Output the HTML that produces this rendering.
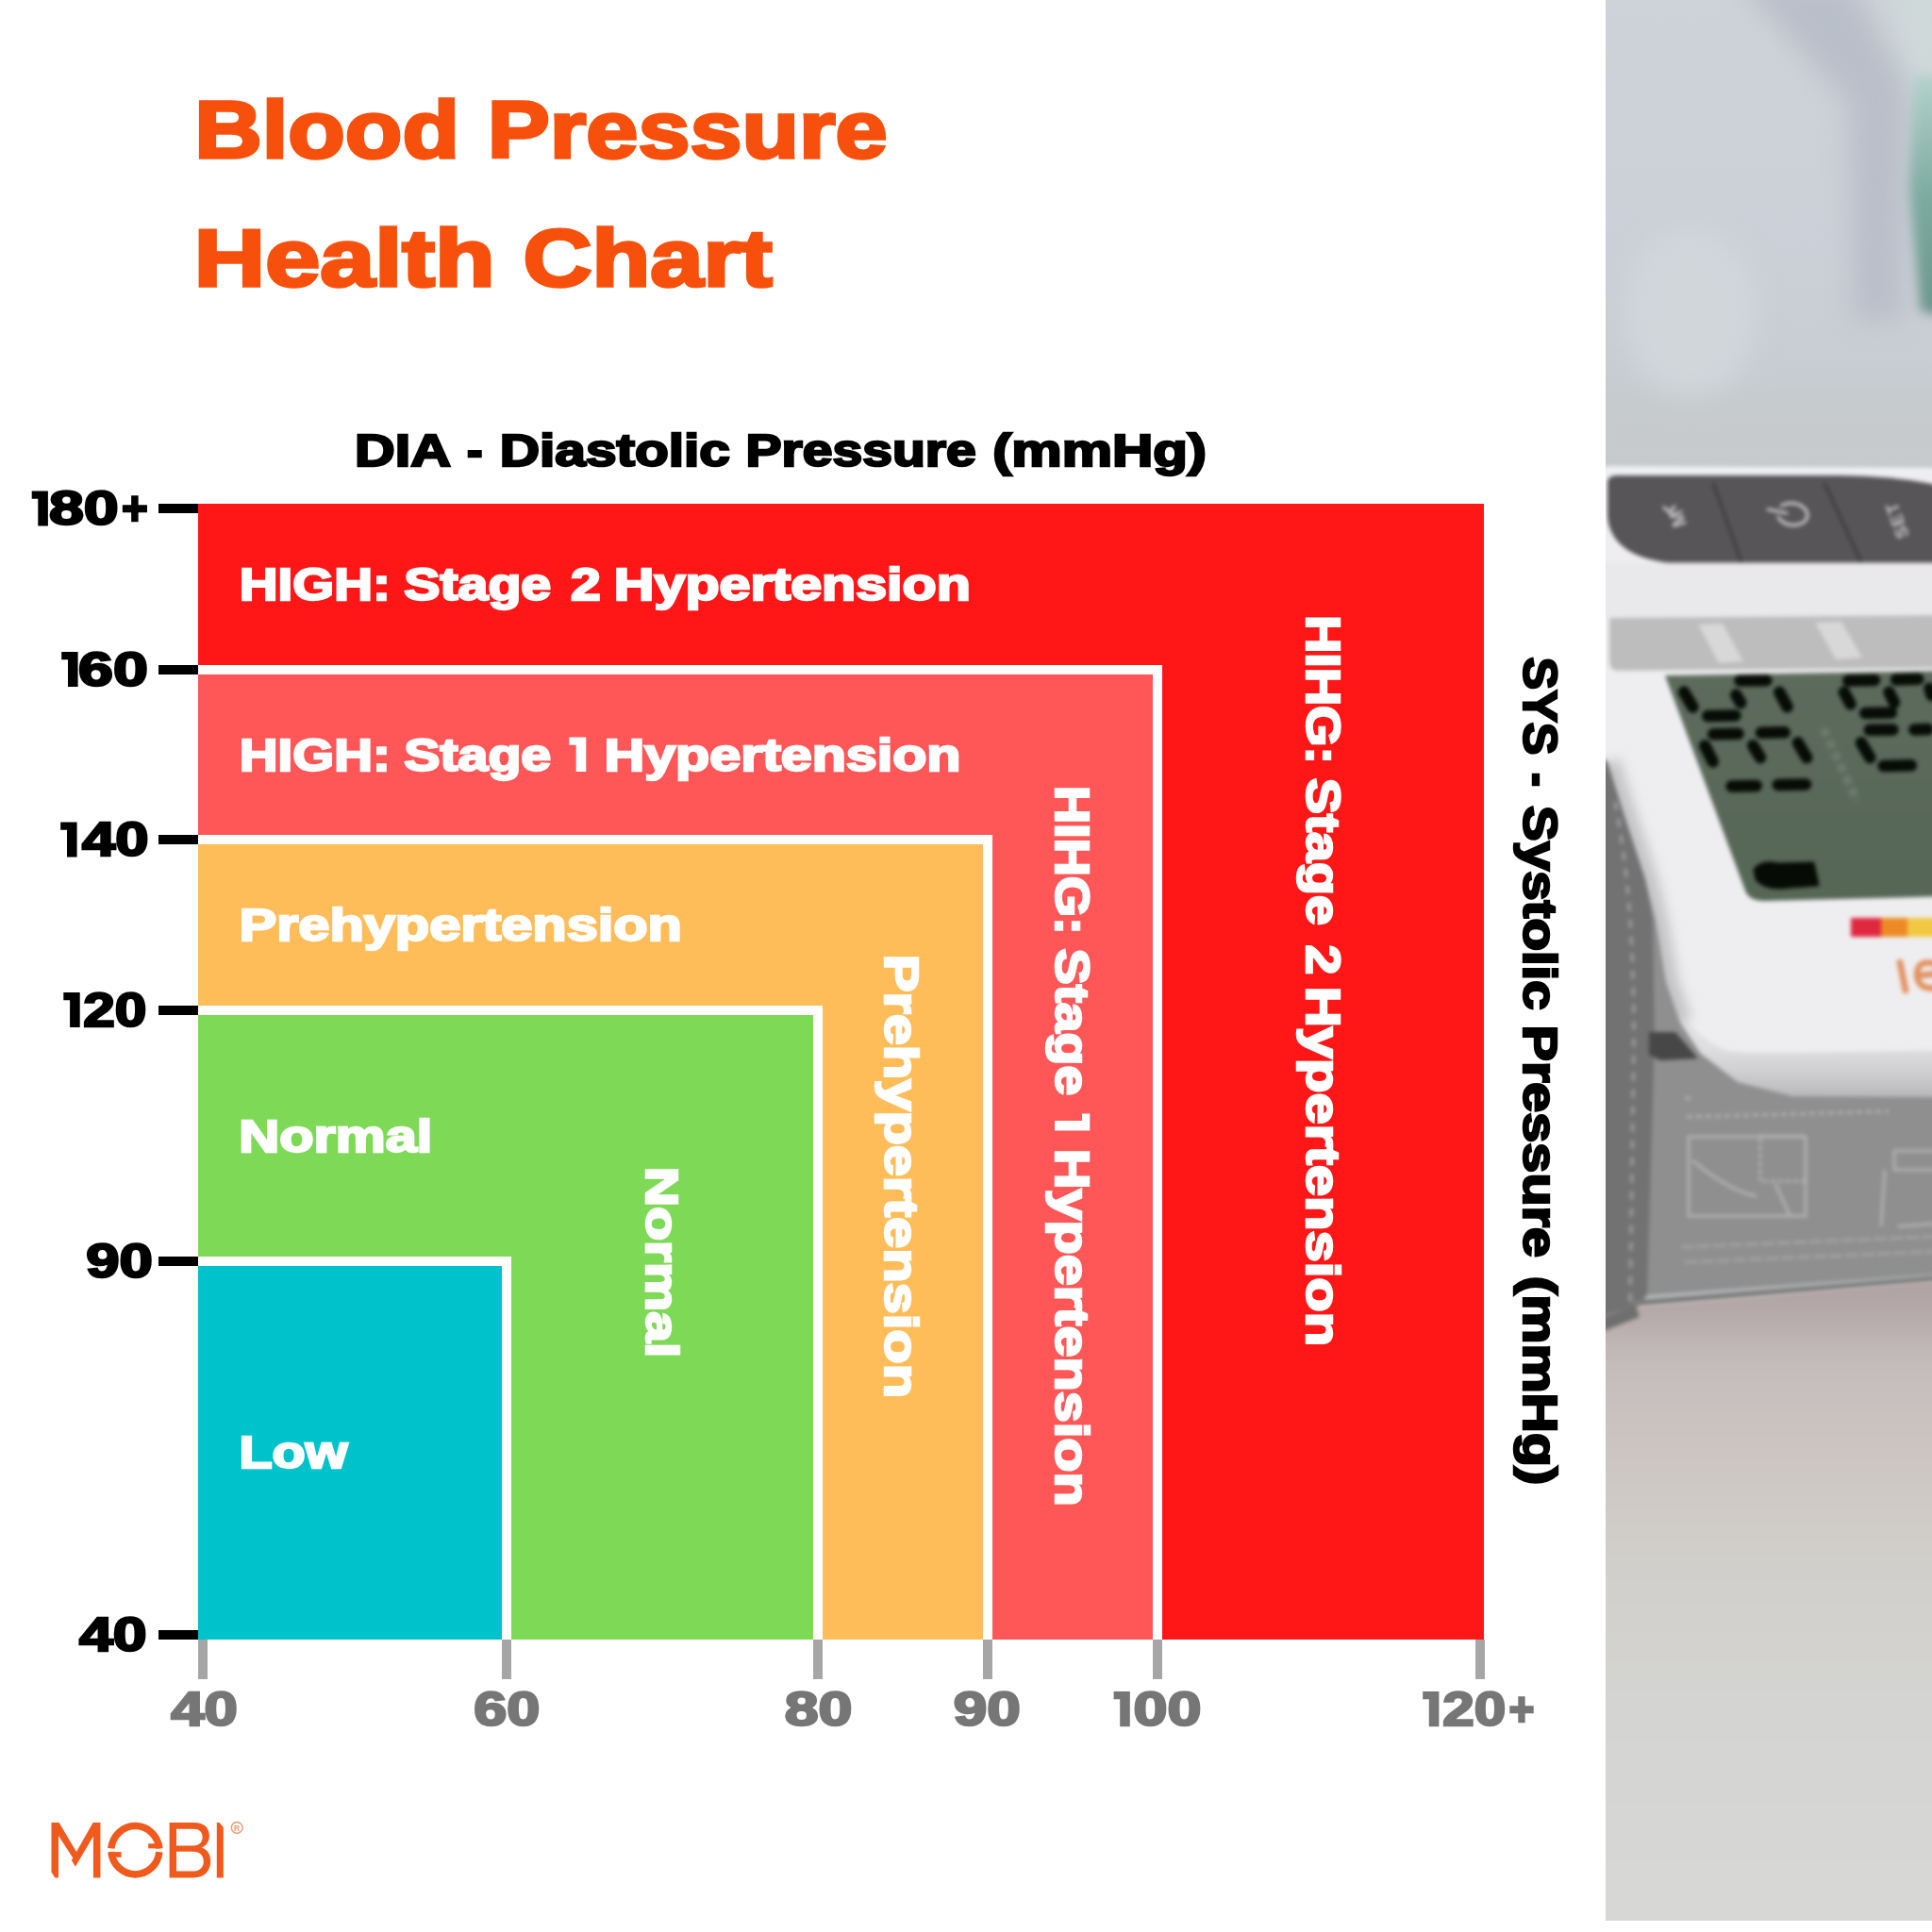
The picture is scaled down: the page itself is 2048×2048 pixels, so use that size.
<!DOCTYPE html>
<html lang="en">
<head>
<meta charset="utf-8">
<title>Blood Pressure Health Chart</title>
<style>
html,body{margin:0;padding:0;background:#fff;}
body{width:2048px;height:2048px;position:relative;overflow:hidden;font-family:"Liberation Sans", sans-serif;}
.chart{position:absolute;left:210px;top:534px;width:1363px;height:1204px;background:#ff1616;}
.zone{position:absolute;left:0;bottom:0;box-sizing:border-box;border-top:10px solid #fff;border-right:10px solid #fff;}
.z1{width:1022px;height:1033.5px;background:#ff5757;}
.z2{width:842px;height:853px;background:#ffbd59;}
.z3{width:662px;height:672.5px;background:#7ed957;}
.z4{width:332px;height:406.5px;background:#00c2cb;}
i.yt{position:absolute;left:167.5px;width:42.5px;height:10px;background:#000;display:block;}
i.xt{position:absolute;top:1738px;width:10px;height:42px;background:#a6a6a6;display:block;}
svg.txt{position:absolute;left:0;top:0;}
svg.txt text{font-family:"Liberation Sans", sans-serif;font-weight:700;stroke-linejoin:miter;stroke-miterlimit:3;}
.photo{position:absolute;left:1702px;top:0;width:346px;height:2036px;overflow:hidden;background:#cfd4d8;}
.photo svg{display:block;}
.logo{position:absolute;left:50px;top:1925px;}
</style>
</head>
<body>
<div class="photo">
<svg width="346" height="2036" viewBox="0 0 346 2036">
  <defs>
    <filter id="b2" color-interpolation-filters="sRGB" x="-20%" y="-20%" width="140%" height="140%"><feGaussianBlur stdDeviation="2"/></filter>
    <filter id="b6" color-interpolation-filters="sRGB" x="-30%" y="-30%" width="160%" height="160%"><feGaussianBlur stdDeviation="6"/></filter>
    <filter id="b14" color-interpolation-filters="sRGB" x="-50%" y="-50%" width="200%" height="200%"><feGaussianBlur stdDeviation="14"/></filter>
    <filter id="b30" color-interpolation-filters="sRGB" x="-50%" y="-50%" width="200%" height="200%"><feGaussianBlur stdDeviation="30"/></filter>
    <linearGradient id="bg" x1="0" y1="0" x2="0" y2="1">
      <stop offset="0" stop-color="#cdd3d9"/><stop offset="0.55" stop-color="#cbd0d8"/><stop offset="1" stop-color="#c6cbce"/>
    </linearGradient>
    <linearGradient id="teal" x1="0" y1="0" x2="0" y2="1">
      <stop offset="0" stop-color="#b4d2cb"/><stop offset="0.5" stop-color="#7daba0"/><stop offset="1" stop-color="#6a968a"/>
    </linearGradient>
    <linearGradient id="table" x1="0" y1="0" x2="0" y2="1">
      <stop offset="0" stop-color="#aea3a2"/><stop offset="0.045" stop-color="#b4a9a8"/><stop offset="0.13" stop-color="#c5bdbc"/><stop offset="0.28" stop-color="#cdc7c4"/><stop offset="0.42" stop-color="#d1cfcb"/><stop offset="0.63" stop-color="#d4d4d2"/><stop offset="1" stop-color="#d8d8d7"/>
    </linearGradient>
    <linearGradient id="rim" gradientUnits="userSpaceOnUse" x1="0" y1="1110" x2="0" y2="1162">
      <stop offset="0" stop-color="#dfdfe1"/><stop offset="0.5" stop-color="#cfcfd1"/><stop offset="1" stop-color="#b9b9bb"/>
    </linearGradient>
    <linearGradient id="lcd" x1="0" y1="0" x2="0" y2="1">
      <stop offset="0" stop-color="#5d6b5c"/><stop offset="1" stop-color="#566756"/>
    </linearGradient>
  </defs>

  <!-- blurred background -->
  <rect x="0" y="0" width="346" height="500" fill="url(#bg)"/>
  <g filter="url(#b14)">
    <path d="M140 -20 L260 -20 L320 90 L315 340 L262 340 L258 110 Z" fill="#b9bfc9"/>
    <path d="M300 -20 L360 -20 L360 100 L322 90 Z" fill="#cfd9d8"/>
    <ellipse cx="90" cy="330" rx="70" ry="90" fill="#d0d6da"/>
    <rect x="-20" y="420" width="400" height="90" fill="#c6cacc"/>
  </g>
  <g filter="url(#b6)">
    <path d="M326 80 L360 80 L360 335 L334 330 L322 200 Z" fill="url(#teal)"/>
  </g>

  <!-- device -->
  <g filter="url(#b2)">
    <!-- white top rim -->
    <path d="M-20 494 L366 496 L366 524 L-20 510 Z" fill="#eef0f2"/>
    <!-- body white -->
    <rect x="-20" y="500" width="400" height="680" fill="#eeeef0"/>
    <!-- dark button panel -->
    <path d="M2 512 Q2 504 12 504 L250 504 Q320 505 366 518 L366 596.5 L66 596.5 Q6 589 2 548 Z" fill="#575557"/>
    <path d="M114 512 L144 596" stroke="#3f3d3f" stroke-width="3" fill="none"/>
    <path d="M232 512 L271 596" stroke="#3f3d3f" stroke-width="3" fill="none"/>
    <!-- button icons -->
    <g fill="#c6c6c8" font-family="Liberation Sans, sans-serif" font-weight="700">
      <text transform="translate(86 556) rotate(-108)" font-size="21">M</text>
      <text transform="translate(322 568) rotate(-110)" font-size="19" letter-spacing="1">SET</text>
    </g>
    <g stroke="#c6c6c8" stroke-width="3.2" fill="none" stroke-linecap="round">
      <path d="M62 538 l6 5 l5 -6"/>
      <ellipse cx="198" cy="545" rx="16" ry="11.5" transform="rotate(8 198 545)"/>
      <path d="M178 541 L188 543" stroke="#575557" stroke-width="10" stroke-linecap="butt"/>
      <path d="M172 540 L192 544"/>
    </g>
    <!-- light band -->
    <rect x="-20" y="597" width="400" height="58" fill="#e9e8eb"/>
    <!-- grey band -->
    <path d="M4 655 L366 652 L366 708 L12 711 Q4 711 4 700 Z" fill="#bebdbe"/>
    <g fill="#d9d8d9">
      <path d="M98 662 l26 -1 l22 40 l-26 2 z"/>
      <path d="M222 660 l28 -1 l22 38 l-28 2 z"/>
    </g>
  </g>

  <!-- LCD -->
  <g filter="url(#b2)">
    <path d="M63 716 L366 711 L366 950 L168 955 Q152 955 148 944 Z" fill="url(#lcd)"/>
    <path d="M230.9 772.1 L266.7 849.6" stroke="#7a877b" stroke-width="9" stroke-dasharray="9 5" fill="none" opacity="0.55"/>
    <path d="M83.1 733.6 L92.5 749.5 M142.5 721.6 L170.3 721.2 M138.3 736.6 L143.2 745.0 M184.3 733.7 L192.6 749.3 M108.2 758.9 L137.5 758.5 M257.3 721.6 L285.1 720.9 M308.0 720.4 L331.3 719.8 M252.9 733.7 L259.6 746.4 M300.5 733.8 L306.0 744.8 M275.2 755.9 L302.9 755.5 M343.5 729.7 L345.7 737.0 M114.2 778.3 L140.5 777.8 M164.9 776.8 L189.7 776.3 M105.2 790.4 L113.7 807.4 M156.2 790.2 L164.0 803.1 M203.9 787.3 L213.2 803.1 M279.7 773.8 L304.4 773.4 M327.4 773.4 L341.7 773.1 M271.0 787.3 L280.3 803.1 M294.6 811.9 L323.8 811.3 M133.6 833.4 L159.8 833.0 M182.8 831.9 L212.0 831.5" stroke="#070c06" stroke-width="12.5" stroke-linecap="round" fill="none"/>
    <path d="M158 922 Q166 912 182 916 L220 915 L225 938 L196 940 Q170 944 160 932 Z" fill="#070b06" stroke="#070b06" stroke-width="3" stroke-linejoin="round"/>
  </g>

  <!-- classification colour bar + brand text -->
  <g filter="url(#b2)">
    <rect x="260" y="973" width="34" height="20" fill="#df2740"/>
    <rect x="292" y="973" width="30" height="20" fill="#ee8a25"/>
    <rect x="320" y="973" width="50" height="20" fill="#f2c842"/>
    <g stroke="#e38f5e" stroke-width="6.5" fill="none" stroke-linecap="round">
      <path d="M312 1020 L318 1050"/>
      <path d="M350 1022 Q330 1016 330 1034 Q332 1052 356 1046 M334 1034 L352 1032"/>
    </g>
  </g>

  <!-- cuff -->
  <g filter="url(#b2)">
    <!-- lower (shaded) face of device body -->
    <path d="M66 1040 Q84 1098 130 1114 Q150 1117 200 1116 L366 1113 L366 1170 L140 1165 L60 1100 Z" fill="url(#rim)"/>
    <!-- soft shadow on body next to cuff -->
    <path d="M2 808 L20.6 867 L42 932 L53 975.6 L64 1041 L79 1084" stroke="#c4c4c6" stroke-width="26" fill="none" filter="url(#b6)"/>
    <!-- cuff body -->
    <path d="M-20 790 L2 808 L20.6 867 L42 932 L53 975.6 L64 1041 L79 1084 L101 1117 L140 1147 L198 1162 L366 1163 L366 1350 L30 1375 L-20 1400 Z" fill="#8f8f8f"/>
    <!-- darker left strip -->
    <path d="M-20 790 L2 808 L20.6 867 L42 932 L50 975 L52 1100 L44 1372 L30 1395 L-20 1405 Z" fill="#727272"/>
    <path d="M46 1094 L74 1094 L98 1122 L58 1124 L46 1118 Z" fill="#474747"/>
    <!-- stitching -->
    <path d="M10 850 Q30 950 30 1100 L26 1380" stroke="#9c9c9c" stroke-width="3.5" stroke-dasharray="9 9" fill="none"/>
    <!-- printed diagram on cuff -->
    <g stroke="#c0c0c0" stroke-width="2.5" fill="none" opacity="0.85">
      <path d="M84 1164 L92 1164 M86 1184 L300 1178" stroke-dasharray="6 4"/>
      <rect x="88" y="1205" width="124" height="84"/>
      <path d="M92 1230 Q130 1262 160 1268"/>
      <rect x="164" y="1204" width="48" height="48" stroke-dasharray="5 3"/>
      <path d="M180 1255 L196 1290"/>
      <rect x="306" y="1220" width="60" height="20"/>
      <path d="M296 1240 L292 1300 M310 1300 L366 1296"/>
      <path d="M80 1322 L366 1310 M84 1338 L366 1326" stroke-dasharray="14 3" opacity="0.6"/>
    </g>
    <path d="M28 1378 L366 1351 L366 1358 L28 1386 Z" fill="#7d7d7d"/>
  </g>

  <!-- table -->
  <g filter="url(#b2)">
    <path d="M-20 1400 L30 1385 L366 1356 L366 2060 L-20 2060 Z" fill="url(#table)"/>
    <path d="M-20 1402 L32 1384 L36 1396 L-20 1418 Z" fill="#6f6f6f"/>
  </g>
</svg>

</div>
<div class="chart">
  <div class="zone z1"><div class="zone z2"><div class="zone z3"><div class="zone z4"></div></div></div></div>
</div>
<i class="yt" style="top:534px"></i>
<i class="yt" style="top:704.5px"></i>
<i class="yt" style="top:885px"></i>
<i class="yt" style="top:1065.5px"></i>
<i class="yt" style="top:1331.5px"></i>
<i class="yt" style="top:1728px"></i>
<i class="xt" style="left:210px"></i>
<i class="xt" style="left:532px"></i>
<i class="xt" style="left:862px"></i>
<i class="xt" style="left:1042px"></i>
<i class="xt" style="left:1222px"></i>
<i class="xt" style="left:1563.5px"></i>
<div class="logo">
<svg width="215" height="75" viewBox="50 1925 215 75" fill="#f15a1d">
  <!-- M -->
  <path d="M54.5 1932 L62.6 1932 L81.3 1963.5 L77.6 1970 L62 1946 L62 1990.6 L58.3 1990.6 L54.5 1984.6 Z"/>
  <path d="M98.6 1932 L106.4 1932 L106.4 1990.6 L98.9 1990.6 L98.9 1946.5 L79.9 1978.8 L75.9 1972 Z"/>
  <!-- O (split ring with hooks) -->
  <path d="M117.9 1959.4 A25.6 26.4 0 0 1 168.85 1959.4" fill="none" stroke="#f15a1d" stroke-width="7.5"/>
  <path d="M168.85 1963.1 A25.6 26.4 0 0 1 117.9 1963.1" fill="none" stroke="#f15a1d" stroke-width="7.5"/>
  <rect x="157.2" y="1954.3" width="14" height="5.1"/>
  <rect x="115.5" y="1963.1" width="13.1" height="5.7"/>
  <!-- B -->
  <path fill-rule="evenodd" d="M179.6 1932 L206 1932 C216 1932 221.9 1937.5 221.9 1946 C221.9 1952.5 218.5 1956.8 213.5 1958.6 C219.5 1960.4 223.2 1965.5 223.2 1973 C223.2 1983.5 216.5 1990.4 205 1990.4 L179.6 1990.4 Z M187 1938.7 L187 1956.5 L205 1956.5 C211 1956.5 214.6 1953 214.6 1947.5 C214.6 1942 211 1938.7 205 1938.7 Z M187 1962.8 L187 1983.6 L204.5 1983.6 C211.5 1983.6 215.8 1979.6 215.8 1973.2 C215.8 1966.8 211.5 1962.8 204.5 1962.8 Z"/>
  <!-- I -->
  <path d="M229.8 1932 L232.6 1932 L236.8 1937 L236.8 1990.4 L229.8 1990.4 Z"/>
  <!-- registered mark -->
  <circle cx="251.2" cy="1937.4" r="5.9" fill="none" stroke="#ee9a73" stroke-width="1.4"/>
  <text x="251.2" y="1940.6" font-family="Liberation Sans, sans-serif" font-weight="700" font-size="8.6" text-anchor="middle" fill="#ee9a73">R</text>
</svg>

</div>
<svg class="txt" width="2048" height="2048" viewBox="0 0 2048 2048">
<text x="206.21" y="167.30" font-size="85.76" textLength="280.73" lengthAdjust="spacingAndGlyphs" fill="#f6500c" stroke="#f6500c" stroke-width="3.4">Blood</text>
<text x="516.81" y="167.30" font-size="85.76" textLength="423.85" lengthAdjust="spacingAndGlyphs" fill="#f6500c" stroke="#f6500c" stroke-width="3.4">Pressure</text>
<text x="205.88" y="302.90" font-size="84.91" textLength="318.76" lengthAdjust="spacingAndGlyphs" fill="#f6500c" stroke="#f6500c" stroke-width="3.4">Health</text>
<text x="554.54" y="302.90" font-size="84.91" textLength="264.05" lengthAdjust="spacingAndGlyphs" fill="#f6500c" stroke="#f6500c" stroke-width="3.4">Chart</text>
<text x="376.10" y="493.60" font-size="48.64" textLength="101.82" lengthAdjust="spacingAndGlyphs" fill="#000" stroke="#000" stroke-width="2.4">DIA</text>
<text x="495.05" y="493.60" font-size="48.64" textLength="16.55" lengthAdjust="spacingAndGlyphs" fill="#000" stroke="#000" stroke-width="2.4">-</text>
<text x="529.74" y="493.60" font-size="48.64" textLength="244.22" lengthAdjust="spacingAndGlyphs" fill="#000" stroke="#000" stroke-width="2.4">Diastolic</text>
<text x="790.54" y="493.60" font-size="48.64" textLength="244.08" lengthAdjust="spacingAndGlyphs" fill="#000" stroke="#000" stroke-width="2.4">Pressure</text>
<text x="1052.39" y="493.60" font-size="48.64" textLength="226.58" lengthAdjust="spacingAndGlyphs" fill="#000" stroke="#000" stroke-width="2.4">(mmHg)</text>
<text x="51.93" y="556.30" font-size="49.21" textLength="73.76" lengthAdjust="spacingAndGlyphs" fill="#000" stroke="#000" stroke-width="2.4">80</text>
<text x="129.12" y="556.30" font-size="49.21" textLength="27.75" lengthAdjust="spacingAndGlyphs" fill="#000" stroke="#000" stroke-width="2.4">+</text>
<text x="83.03" y="726.80" font-size="49.21" textLength="73.76" lengthAdjust="spacingAndGlyphs" fill="#000" stroke="#000" stroke-width="2.4">60</text>
<text x="87.10" y="907.30" font-size="49.21" textLength="70.57" lengthAdjust="spacingAndGlyphs" fill="#000" stroke="#000" stroke-width="2.4">40</text>
<text x="88.31" y="1087.80" font-size="49.21" textLength="67.13" lengthAdjust="spacingAndGlyphs" fill="#000" stroke="#000" stroke-width="2.4">20</text>
<text x="91.21" y="1353.80" font-size="49.21" textLength="70.66" lengthAdjust="spacingAndGlyphs" fill="#000" stroke="#000" stroke-width="2.4">90</text>
<text x="84.00" y="1750.10" font-size="49.21" textLength="71.61" lengthAdjust="spacingAndGlyphs" fill="#000" stroke="#000" stroke-width="2.4">40</text>
<text x="181.20" y="1829.10" font-size="49.64" textLength="70.68" lengthAdjust="spacingAndGlyphs" fill="#767676" stroke="#767676" stroke-width="2.4">40</text>
<text x="502.23" y="1829.10" font-size="49.64" textLength="70.13" lengthAdjust="spacingAndGlyphs" fill="#767676" stroke="#767676" stroke-width="2.4">60</text>
<text x="831.68" y="1829.10" font-size="49.64" textLength="71.73" lengthAdjust="spacingAndGlyphs" fill="#767676" stroke="#767676" stroke-width="2.4">80</text>
<text x="1010.80" y="1829.10" font-size="49.64" textLength="71.09" lengthAdjust="spacingAndGlyphs" fill="#767676" stroke="#767676" stroke-width="2.4">90</text>
<text x="1201.48" y="1829.10" font-size="49.64" textLength="71.94" lengthAdjust="spacingAndGlyphs" fill="#767676" stroke="#767676" stroke-width="2.4">00</text>
<text x="1529.32" y="1829.10" font-size="49.64" textLength="66.92" lengthAdjust="spacingAndGlyphs" fill="#767676" stroke="#767676" stroke-width="2.4">20</text>
<text x="1599.56" y="1829.10" font-size="49.64" textLength="26.96" lengthAdjust="spacingAndGlyphs" fill="#767676" stroke="#767676" stroke-width="2.4">+</text>
<text x="253.87" y="636.30" font-size="48.50" textLength="159.81" lengthAdjust="spacingAndGlyphs" fill="#fff" stroke="#fff" stroke-width="2.4">HIGH:</text>
<text x="428.31" y="636.30" font-size="48.50" textLength="155.92" lengthAdjust="spacingAndGlyphs" fill="#fff" stroke="#fff" stroke-width="2.4">Stage</text>
<text x="604.91" y="636.30" font-size="48.50" textLength="31.81" lengthAdjust="spacingAndGlyphs" fill="#fff" stroke="#fff" stroke-width="2.4">2</text>
<text x="650.80" y="636.30" font-size="48.50" textLength="377.96" lengthAdjust="spacingAndGlyphs" fill="#fff" stroke="#fff" stroke-width="2.4">Hypertension</text>
<text x="253.87" y="816.80" font-size="48.50" textLength="159.81" lengthAdjust="spacingAndGlyphs" fill="#fff" stroke="#fff" stroke-width="2.4">HIGH:</text>
<text x="428.31" y="816.80" font-size="48.50" textLength="155.92" lengthAdjust="spacingAndGlyphs" fill="#fff" stroke="#fff" stroke-width="2.4">Stage</text>
<text x="640.50" y="816.80" font-size="48.50" textLength="377.96" lengthAdjust="spacingAndGlyphs" fill="#fff" stroke="#fff" stroke-width="2.4">Hypertension</text>
<text x="253.48" y="996.80" font-size="48.50" textLength="469.49" lengthAdjust="spacingAndGlyphs" fill="#fff" stroke="#fff" stroke-width="2.4">Prehypertension</text>
<text x="253.28" y="1220.80" font-size="48.50" textLength="205.04" lengthAdjust="spacingAndGlyphs" fill="#fff" stroke="#fff" stroke-width="2.4">Normal</text>
<text x="253.41" y="1556.30" font-size="48.50" textLength="115.00" lengthAdjust="spacingAndGlyphs" fill="#fff" stroke="#fff" stroke-width="2.4">Low</text>
<text transform="translate(684.60 1236.73) rotate(90)" font-size="48.64" textLength="202.55" lengthAdjust="spacingAndGlyphs" fill="#fff" stroke="#fff" stroke-width="2.4">Normal</text>
<text transform="translate(938.20 1011.67) rotate(90)" font-size="49.92" textLength="470.51" lengthAdjust="spacingAndGlyphs" fill="#fff" stroke="#fff" stroke-width="2.4">Prehypertension</text>
<text transform="translate(1119.20 832.71) rotate(90)" font-size="49.64" textLength="158.12" lengthAdjust="spacingAndGlyphs" fill="#fff" stroke="#fff" stroke-width="2.4">HIHG:</text>
<text transform="translate(1119.20 1005.51) rotate(90)" font-size="49.64" textLength="155.92" lengthAdjust="spacingAndGlyphs" fill="#fff" stroke="#fff" stroke-width="2.4">Stage</text>
<text transform="translate(1119.20 1217.69) rotate(90)" font-size="49.64" textLength="378.97" lengthAdjust="spacingAndGlyphs" fill="#fff" stroke="#fff" stroke-width="2.4">Hypertension</text>
<text transform="translate(1385.00 652.01) rotate(90)" font-size="50.06" textLength="158.12" lengthAdjust="spacingAndGlyphs" fill="#fff" stroke="#fff" stroke-width="2.4">HIHG:</text>
<text transform="translate(1385.00 824.81) rotate(90)" font-size="50.06" textLength="155.92" lengthAdjust="spacingAndGlyphs" fill="#fff" stroke="#fff" stroke-width="2.4">Stage</text>
<text transform="translate(1385.00 1001.42) rotate(90)" font-size="50.06" textLength="31.70" lengthAdjust="spacingAndGlyphs" fill="#fff" stroke="#fff" stroke-width="2.4">2</text>
<text transform="translate(1385.00 1045.77) rotate(90)" font-size="50.06" textLength="381.42" lengthAdjust="spacingAndGlyphs" fill="#fff" stroke="#fff" stroke-width="2.4">Hypertension</text>
<text transform="translate(1614.80 696.59) rotate(90)" font-size="50.06" textLength="103.78" lengthAdjust="spacingAndGlyphs" fill="#000" stroke="#000" stroke-width="2.4">SYS</text>
<text transform="translate(1614.80 819.10) rotate(90)" font-size="50.06" textLength="14.92" lengthAdjust="spacingAndGlyphs" fill="#000" stroke="#000" stroke-width="2.4">-</text>
<text transform="translate(1614.80 854.12) rotate(90)" font-size="50.06" textLength="216.59" lengthAdjust="spacingAndGlyphs" fill="#000" stroke="#000" stroke-width="2.4">Systolic</text>
<text transform="translate(1614.80 1086.60) rotate(90)" font-size="50.06" textLength="246.33" lengthAdjust="spacingAndGlyphs" fill="#000" stroke="#000" stroke-width="2.4">Pressure</text>
<text transform="translate(1614.80 1352.65) rotate(90)" font-size="50.06" textLength="221.77" lengthAdjust="spacingAndGlyphs" fill="#000" stroke="#000" stroke-width="2.4">(mmHg)</text>
<path transform="translate(33.7 557.5)" d="M0 -37.0 L17.2 -37.0 L17.2 0 L6.6 0 L6.6 -28.7 L0 -28.7 Z" fill="#000"/>
<path transform="translate(65.2 728.0)" d="M0 -37.0 L17.4 -37.0 L17.4 0 L6.8 0 L6.8 -28.7 L0 -28.7 Z" fill="#000"/>
<path transform="translate(64.2 908.5)" d="M0 -37.0 L17.4 -37.0 L17.4 0 L6.8 0 L6.8 -28.7 L0 -28.7 Z" fill="#000"/>
<path transform="translate(67.3 1089.0)" d="M0 -37.0 L17.4 -37.0 L17.4 0 L6.8 0 L6.8 -28.7 L0 -28.7 Z" fill="#000"/>
<path transform="translate(1180.6 1830.3)" d="M0 -37.3 L17.2 -37.3 L17.2 0 L6.6 0 L6.6 -29.0 L0 -29.0 Z" fill="#767676"/>
<path transform="translate(1508.2 1830.3)" d="M0 -37.3 L17.2 -37.3 L17.2 0 L6.6 0 L6.6 -29.0 L0 -29.0 Z" fill="#767676"/>
<path transform="translate(603.4 818.0)" d="M0 -36.5 L17.9 -36.5 L17.9 0 L7.3 0 L7.3 -28.2 L0 -28.2 Z" fill="#fff"/>
<path transform="translate(1118.0 1180.6) rotate(90)" d="M0 -37.3 L17.9 -37.3 L17.9 0 L7.3 0 L7.3 -29.0 L0 -29.0 Z" fill="#fff"/>
</svg>
</body>
</html>
